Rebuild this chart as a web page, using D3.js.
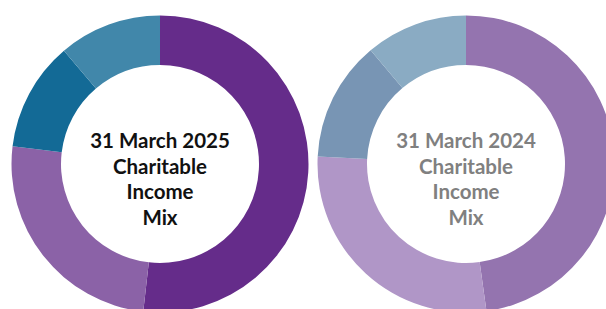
<!DOCTYPE html>
<html>
<head>
<meta charset="utf-8">
<script src="https://cdn.jsdelivr.net/npm/d3@7"></script>
<style>
  body { margin: 0; background: #fff; }
  svg { display: block; }
</style>
</head>
<body>
<div id="chart-area"></div>
<script>
// SVG Size
var width = 606,
	height = 309;

// income mix, share of total (%)
var categories = ["Segment 1", "Segment 2", "Segment 3", "Segment 4"];
var values2025 = [51.8, 25.1, 11.9, 11.2];
var values2024 = [47.8, 28.0, 13.1, 11.1];

var colors2025 = ["#652c8a", "#8b62a7", "#136a96", "#4187aa"];
var colors2024 = ["#9474af", "#b096c7", "#7895b4", "#8aabc3"];

var titles2025 = ["31 March 2025", "Charitable", "Income", "Mix"];
var titles2024 = ["31 March 2024", "Charitable", "Income", "Mix"];

var svg = d3.select("#chart-area")
	.append("svg")
	.attr("width", width)
	.attr("height", height);

var pie = d3.pie().sort(null).value(function(d) { return d.value; });
var arc = d3.arc().innerRadius(99).outerRadius(148.5);

var drawDonut = function(cx, values, colors, titles, textColor) {
	var data = categories.map(function(c, i) {
		return { name: c, value: values[i], color: colors[i] };
	});

	var g = svg.append("g")
		.attr("transform", "translate(" + cx + ",164)");

	g.selectAll("path")
		.data(pie(data))
		.enter()
		.append("path")
		.attr("d", arc)
		.attr("fill", function(d) { return d.data.color; });

	g.selectAll("text")
		.data(titles)
		.enter()
		.append("text")
		.attr("text-anchor", "middle")
		.attr("y", function(d, i) { return -16 + i * 25.7; })
		.attr("font-family", "Lato, 'Open Sans', sans-serif")
		.attr("font-weight", 700)
		.attr("font-size", 20.5)
		.attr("fill", textColor)
		.text(function(d) { return d; });
};

drawDonut(160, values2025, colors2025, titles2025, "#111111");
drawDonut(466, values2024, colors2024, titles2024, "#808080");
</script>
</body>
</html>
